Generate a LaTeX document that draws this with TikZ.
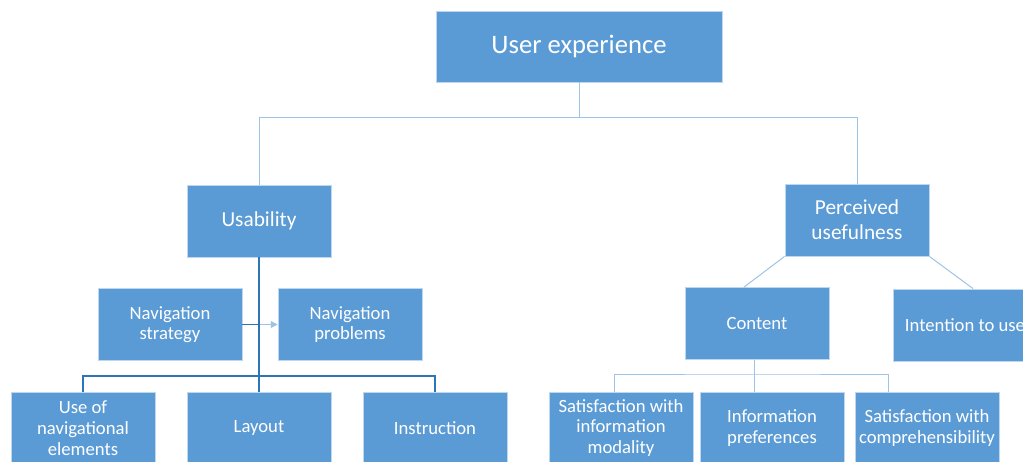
\documentclass[tikz,border=0pt]{standalone}
\usepackage{fontspec}
\setmainfont{Carlito}
\usepackage{tikz}
\usetikzlibrary{arrows.meta}
\usepackage{xcolor}
\definecolor{boxblue}{RGB}{91,155,213}
\definecolor{lineblue}{RGB}{157,195,230}
\definecolor{darkblue}{RGB}{46,117,182}

\tikzset{
  box/.style={draw={rgb, 255:red, 189; green, 215; blue, 238 }, line width=0.6, fill=boxblue, text=white,
    minimum width=108pt, minimum height=54pt, inner sep=0pt, align=center,
    font=\fontsize{14}{15.5}\selectfont},
  thinline/.style={draw=lineblue, line width=0.75},
  thickline/.style={draw=darkblue, line width=1.5},
}

\begin{document}
\begin{tikzpicture}[x=0.75pt,y=0.75pt,yscale=-1,xscale=1]
\useasboundingbox (0,0) rectangle (1023,461);
\clip (0,0) rectangle (1023,461);

% Top box
\node [box, minimum width=214.5pt, minimum height=53.25pt, font=\fontsize{20}{24}\selectfont] (ux) at (579,46.5) {User experience};

% Level 1
\node [box, font=\fontsize{16}{18.75}\selectfont] (usab) at (259,221) {Usability};
\node [box, font=\fontsize{16}{18.75}\selectfont] (perc) at (857,220) {Perceived\\usefulness};

% Usability branch
\node [box] (strat) at (170,324.5) {Navigation\\strategy};
\node [box] (prob) at (350,324.5) {Navigation\\problems};
\node [box] (useof) at (83,428) {Use of\\navigational\\elements};
\node [box] (layout) at (259,428) {Layout};
\node [box] (instr) at (435,428) {Instruction};

% Perceived usefulness branch
\node [box] (content) at (757,323.5) {Content};
\node [box] (intent) at (965,325) {Intention to use};
\node [box] (satinf) at (621,428) {Satisfaction with\\information\\modality};
\node [box] (infopref) at (772,428) {Information\\preferences};
\node [box] (satcomp) at (927,428) {Satisfaction with\\comprehensibility};

% Connectors from top
\coordinate (topbar) at (579,117);
\draw [thinline] (ux.south) -- (topbar) -| (usab.north);
\draw [thinline] (topbar) -| (perc.north);

% Usability connectors
\coordinate (ubar) at (259,376);
\coordinate (ucross) at (259,324.5);
\draw [thinline, -{Triangle[length=5pt,width=5pt]}] (strat.east) -- (prob.west);
\draw [draw=darkblue, line width=0.9] (strat.east) -- (ucross);
\draw [thickline] (usab.south) -- (layout.north);
\draw [thickline] (useof.north) |- (ubar) -| (instr.north);

% Perceived usefulness connectors
\draw [thinline] (perc.south west) -- ([xshift=-9.75pt]content.north);
\draw [thinline] (perc.south east) -- ([xshift=6pt]intent.north);
\coordinate (cbar) at (754,374);
\draw [thinline] ([xshift=-2.25pt]content.south) -- ([xshift=-13.5pt]infopref.north);
\draw [thinline] ([xshift=-5.25pt]satinf.north) |- (cbar) -| ([xshift=-29.25pt]satcomp.north);

\end{tikzpicture}
\end{document}
